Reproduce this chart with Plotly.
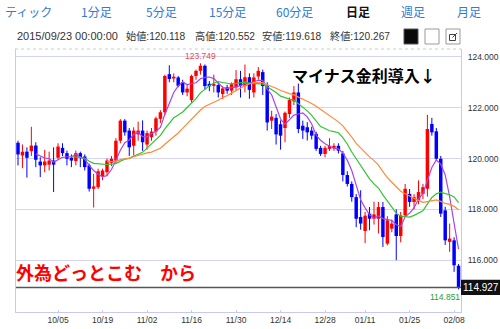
import plotly.graph_objects as go
import pandas as pd

# ---------------- data ----------------
dates = ["09/22", "09/23", "09/24", "09/25", "09/28", "09/29", "09/30",
         "10/01", "10/02", "10/05", "10/06", "10/07", "10/08", "10/09",
         "10/12", "10/13", "10/14", "10/15", "10/16", "10/19", "10/20", "10/21", "10/22", "10/23",
         "10/26", "10/27", "10/28", "10/29", "10/30",
         "11/02", "11/03", "11/04", "11/05", "11/06", "11/09", "11/10", "11/11", "11/12", "11/13",
         "11/16", "11/17", "11/18", "11/19", "11/20", "11/23", "11/24", "11/25", "11/26", "11/27",
         "11/30", "12/01", "12/02", "12/03", "12/04", "12/07", "12/08", "12/09", "12/10", "12/11",
         "12/14", "12/15", "12/16", "12/17", "12/18", "12/21", "12/22", "12/23", "12/24", "12/25",
         "12/28", "12/29", "12/30", "12/31",
         "01/04", "01/05", "01/06", "01/07", "01/08", "01/11", "01/12", "01/13", "01/14", "01/15",
         "01/18", "01/19", "01/20", "01/21", "01/22", "01/25", "01/26", "01/27", "01/28", "01/29",
         "02/01", "02/02", "02/03", "02/04", "02/05", "02/08", "02/09"]

opens = [120.62, 120.118, 120.27, 120.29, 120.51, 119.88, 119.73,
         119.76, 119.92, 120.03, 120.42, 120.21, 120.03, 119.90,
         120.21, 120.08, 119.73, 118.81, 118.87, 119.30, 119.46, 119.83, 119.92, 120.70,
         121.49, 121.10, 120.50, 120.95, 121.10,
         120.55, 120.84, 121.06, 121.56, 121.82, 123.32, 123.15, 123.19, 123.00, 122.60,
         122.30, 123.25, 123.45, 123.65, 122.94, 122.86, 122.89, 122.54, 122.80, 122.67,
         122.80, 123.12, 122.85, 123.20, 122.60, 123.23, 123.40, 122.86, 121.49, 121.60,
         121.35, 121.20, 121.75, 122.25, 122.60, 121.29, 121.23, 121.10, 120.97, 120.42,
         120.18, 120.38, 120.42, 120.50,
         120.20, 119.35, 119.00, 118.48, 117.70, 117.15, 117.83, 117.63, 117.63, 118.09,
         116.65, 117.24, 117.80, 116.95, 117.76, 118.61, 118.29, 118.35, 118.61, 118.81,
         121.36, 121.07, 119.99, 117.96, 116.72, 116.78, 115.78]

highs = [120.70, 120.552, 120.44, 121.25, 120.64, 120.05, 120.34,
         120.27, 120.44, 120.60, 120.60, 120.31, 120.16, 120.31,
         120.27, 120.16, 119.80, 119.40, 119.60, 119.60, 120.00, 120.10, 120.80, 121.55,
         121.55, 121.20, 121.23, 121.45, 121.50,
         121.10, 121.20, 121.65, 121.90, 123.30, 123.67, 123.35, 123.25, 123.10, 122.93,
         123.30, 123.50, 123.749, 123.70, 123.05, 123.30, 123.00, 122.85, 122.90, 123.00,
         123.48, 123.45, 123.70, 123.35, 123.35, 123.60, 123.50, 123.00, 121.88, 121.75,
         121.50, 121.85, 122.40, 122.85, 122.95, 121.49, 121.43, 121.25, 121.05, 120.50,
         120.50, 120.80, 120.60, 120.60,
         120.30, 119.50, 119.10, 118.60, 118.75, 117.90, 118.09, 118.30, 118.29, 118.29,
         117.73, 117.60, 118.00, 117.90, 119.00, 118.80, 118.60, 119.14, 119.00, 121.72,
         121.60, 121.20, 120.10, 118.10, 117.44, 116.90, 115.85]

lows = [119.73, 119.618, 119.25, 120.10, 119.66, 119.27, 119.46,
        119.53, 118.68, 119.95, 120.10, 119.73, 119.66, 119.73,
        119.66, 119.53, 118.70, 118.07, 118.80, 119.15, 119.30, 119.70, 119.80, 120.60,
        120.90, 120.10, 120.12, 120.70, 120.30,
        120.35, 120.70, 120.90, 121.40, 121.70, 123.00, 123.00, 122.80, 122.50, 122.45,
        122.20, 123.10, 123.30, 122.70, 122.65, 122.60, 122.40, 122.34, 122.55, 122.50,
        122.70, 122.40, 122.60, 122.35, 122.40, 123.10, 122.50, 121.10, 121.16, 120.55,
        120.35, 120.64, 121.60, 122.10, 121.00, 120.77, 120.71, 120.75, 120.30, 120.10,
        120.05, 120.30, 120.30, 120.20,
        119.10, 118.90, 118.30, 117.30, 117.20, 116.67, 117.18, 117.40, 117.05, 116.52,
        116.58, 117.10, 116.00, 116.70, 117.70, 118.10, 118.00, 118.20, 118.40, 118.50,
        120.90, 119.90, 117.70, 116.60, 116.33, 115.54, 114.851]

closes = [120.16, 120.267, 120.03, 120.51, 119.95, 119.73, 119.88,
          119.92, 119.76, 120.47, 120.21, 119.99, 119.92, 120.21,
          120.05, 119.66, 118.81, 118.90, 119.50, 119.53, 119.92, 119.99, 120.70, 121.49,
          121.03, 120.44, 121.10, 121.10, 120.64,
          121.00, 121.06, 121.58, 121.82, 123.25, 123.13, 123.22, 122.86, 122.60, 122.75,
          123.25, 123.45, 123.65, 122.85, 122.84, 122.93, 122.60, 122.76, 122.67, 122.93,
          123.12, 122.86, 123.20, 122.70, 123.19, 123.45, 122.85, 121.42, 121.65, 120.95,
          120.90, 121.80, 122.30, 122.60, 121.16, 121.10, 121.03, 120.90, 120.38, 120.18,
          120.42, 120.50, 120.50, 120.31,
          119.35, 119.00, 118.48, 117.63, 117.44, 117.75, 117.63, 117.80, 118.09, 116.91,
          117.57, 117.44, 116.95, 117.76, 118.81, 118.29, 118.48, 118.68, 118.87, 121.16,
          121.03, 119.99, 117.83, 116.78, 116.85, 115.80, 114.927]

x_ticks = ["10/05", "10/19", "11/02", "11/16", "11/30", "12/14", "12/28", "01/11", "01/25", "02/08"]
y_ticks = [116, 118, 120, 122, 124]
y_tick_text = ["116.000", "118.000", "120.000", "122.000", "124.000"]

ma_periods = [5, 13, 21]
ma_colors = ["#a844ee", "#33c433", "#ff8a3c"]

high_label = "123.749"
low_label = "114.851"
last_price = 114.927

tabs = ["ティック", "1分足", "5分足", "15分足", "60分足", "日足", "週足", "月足"]
info_items = ["2015/09/23 00:00:00", "始値:120.118", "高値:120.552", "安値:119.618", "終値:120.267"]

UP, DOWN = "#ff0000", "#0000ff"

# ---------------- figure ----------------
W, H = 500, 329
L, R, T, B = 16, 461, 49, 312


def px(x):
    return (x - L) / (R - L)


def py(y):
    return (B - y) / (B - T)


fig = go.Figure()

# wicks
for col, is_up in ((UP, True), (DOWN, False)):
    wx, wy = [], []
    for d, o, h, l, c in zip(dates, opens, highs, lows, closes):
        if (c >= o) == is_up:
            wx += [d, d, None]
            wy += [l, h, None]
    fig.add_trace(go.Scatter(x=wx, y=wy, mode="lines", line=dict(color=col, width=1),
                             connectgaps=False, hoverinfo="skip", showlegend=False))

# bodies
body_base = [min(o, c) for o, c in zip(opens, closes)]
body_len = [max(abs(c - o), 0.025) for o, c in zip(opens, closes)]
body_col = [UP if c >= o else DOWN for o, c in zip(opens, closes)]
fig.add_trace(go.Bar(x=dates, y=body_len, base=body_base, width=0.78,
                     marker=dict(color=body_col, line=dict(width=0)),
                     hoverinfo="skip", showlegend=False))

# moving averages
cl = pd.Series(closes)
for p, c in zip(ma_periods, ma_colors):
    fig.add_trace(go.Scatter(x=dates, y=cl.rolling(p).mean(), mode="lines",
                             line=dict(color=c, width=1.2), hoverinfo="skip",
                             showlegend=False))

FONT_LAT = "Liberation Sans, Arial, sans-serif"
FONT_JP = "Noto Sans CJK JP, sans-serif"

ann = []
tab_x = [28, 96, 161, 227, 294, 358, 413, 469]
for t, x in zip(tabs, tab_x):
    bold = t == "日足"
    ann.append(dict(x=px(x), y=py(11), xref="paper", yref="paper", text=("<b>%s</b>" % t) if bold else t,
                    showarrow=False, xanchor="center", yanchor="middle",
                    font=dict(family=FONT_JP, size=12, color="#111111" if bold else "#2f7bd2")))
info_x = [15, 124, 193, 260, 328]
info_sz = [11, 10.2, 10.2, 10.2, 10.2]
for t, x, s in zip(info_items, info_x, info_sz):
    ann.append(dict(x=px(x), y=py(36), xref="paper", yref="paper", text=t, showarrow=False,
                    xanchor="left", yanchor="middle",
                    font=dict(family=FONT_LAT + ", Noto Sans CJK JP", size=s, color="#333333")))

ann.append(dict(x="11/18", y=highs[dates.index("11/18")], xref="x", yref="y", text=high_label,
                showarrow=False, yshift=7, xanchor="center", yanchor="middle",
                font=dict(family=FONT_LAT, size=8.5, color="#f04a3a")))
ann.append(dict(x="02/09", y=min(lows), xref="x", yref="y", text=low_label,
                showarrow=False, yshift=-8, xshift=3, xanchor="right", yanchor="middle",
                font=dict(family=FONT_LAT, size=8.5, color="#2e9e2e")))
ann.append(dict(x=px(480.5), y=last_price, xref="paper", yref="y", text="%.3f" % last_price,
                showarrow=False, xanchor="center", yanchor="middle",
                font=dict(family=FONT_LAT, size=10, color="#ffffff")))
ann.append(dict(x=px(290), y=py(75), xref="paper", yref="paper", text="<b>マイナス金利導入↓</b>",
                showarrow=False, xanchor="left", yanchor="middle",
                font=dict(family=FONT_JP, size=16, color="#000000")))
ann.append(dict(x=px(14), y=py(272), xref="paper", yref="paper", text="<b>外為どっとこむ　から</b>",
                showarrow=False, xanchor="left", yanchor="middle",
                font=dict(family=FONT_JP, size=18, color="#ff0000")))

shapes = [
    dict(type="line", xref="paper", yref="paper", x0=px(15), x1=px(461), y0=py(49), y1=py(49),
         line=dict(color="#c8c8f0", width=1, dash="dot")),
    dict(type="line", xref="paper", yref="y", x0=0, x1=1, y0=last_price, y1=last_price,
         line=dict(color="#555555", width=1.5)),
    dict(type="rect", xref="paper", yref="y", x0=px(461), x1=px(500), y0=last_price - 0.3,
         y1=last_price + 0.3, fillcolor="#111111", line=dict(width=0)),
    dict(type="rect", xref="paper", yref="paper", x0=px(404), x1=px(418), y0=py(44), y1=py(29),
         fillcolor="#0a0a0a", line=dict(color="#555555", width=1)),
    dict(type="rect", xref="paper", yref="paper", x0=px(425), x1=px(439), y0=py(44), y1=py(29),
         fillcolor="#ffffff", line=dict(color="#999999", width=1)),
    dict(type="rect", xref="paper", yref="paper", x0=px(446), x1=px(460), y0=py(44), y1=py(29),
         fillcolor="#ffffff", line=dict(color="#999999", width=1)),
    dict(type="rect", xref="paper", yref="paper", x0=px(449.5), x1=px(455.5), y0=py(40.5), y1=py(34.5),
         fillcolor="rgba(0,0,0,0)", line=dict(color="#444444", width=1)),
    dict(type="line", xref="paper", yref="paper", x0=px(452.5), x1=px(457), y0=py(37.5), y1=py(33),
         line=dict(color="#444444", width=1)),
]

fig.update_layout(
    width=W, height=H,
    margin=dict(l=L, r=W - R, t=T, b=H - B, autoexpand=False),
    paper_bgcolor="#ffffff", plot_bgcolor="#ffffff",
    showlegend=False, hovermode=False, barmode="overlay",
    annotations=ann, shapes=shapes,
    font=dict(family=FONT_LAT, size=9, color="#333333"),
)
fig.update_xaxes(type="category", categoryorder="array", categoryarray=dates,
                 range=[-0.45, len(dates) - 0.45], automargin=False,
                 tickmode="array", tickvals=x_ticks, ticktext=x_ticks, tickangle=0,
                 showgrid=False, zeroline=False, showline=True, linecolor="#c8c8f0", linewidth=1,
                 ticks="inside", ticklen=2, tickcolor="#c8c8f0",
                 tickfont=dict(family=FONT_LAT, size=8.5, color="#333333"), fixedrange=True)
fig.update_yaxes(side="right", range=[113.96, 124.31], automargin=False, tickmode="array",
                 tickvals=y_ticks, ticktext=y_tick_text,
                 showgrid=True, gridcolor="#d4d4f4", gridwidth=1, zeroline=False,
                 showline=True, linecolor="#c8c8f0", linewidth=1, mirror=True,
                 ticks="", ticklabelstandoff=4,
                 tickfont=dict(family=FONT_LAT, size=8.5, color="#333333"), fixedrange=True)

fig.write_html("out.html", config={"displayModeBar": False, "staticPlot": True})
